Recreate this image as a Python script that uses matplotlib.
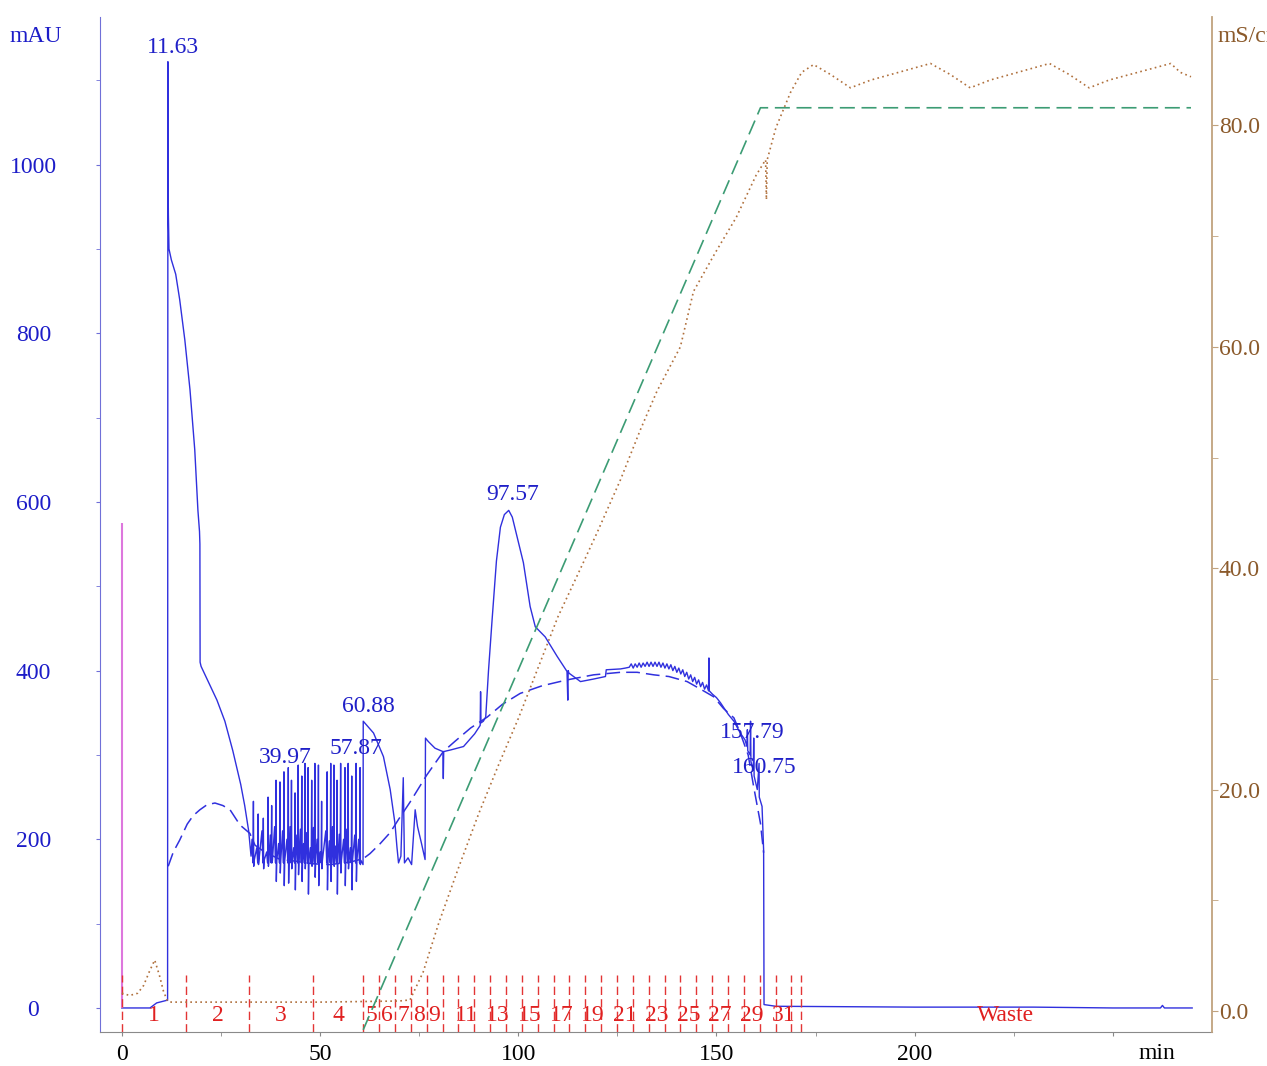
import numpy as np
import matplotlib.pyplot as plt
from matplotlib.transforms import blended_transform_factory

plt.rcParams['font.family'] = ['Liberation Serif', 'DejaVu Serif']

# ---- UV trace (min, mAU) ----
# injection / first peak / wash-out
uvA_t = [0, 7.1, 8.8, 11.3, 11.55, 11.63, 11.68, 11.75, 11.9, 12.5, 13.6, 14.6, 15.9,
         17.2, 18.4, 19.2, 19.6, 19.7, 19.75, 20, 22, 24, 26, 28, 30, 31, 32, 32.6]
uvA_y = [0, 0, 6, 9, 9, 1122, 975, 940, 900, 887, 870, 840, 792,
         733, 662, 590, 565, 550, 410, 405, 385, 365, 340, 305, 265, 240, 210, 180]

# noisy loading region (spikes)
spike_t = [33.2, 34.4, 35.7, 36.9, 37.8, 38.9, 39.9, 40.9, 42.0, 42.8, 43.7, 44.5, 45.4,
           46.2, 47.0, 47.9, 48.7, 49.6, 50.4, 51.8, 52.7, 53.5, 54.3, 55.2, 56.3, 57.1,
           58.0, 59.1, 60.1]
spike_top = [245, 230, 225, 250, 240, 270, 268, 280, 285, 270, 255, 288, 275,
             290, 285, 270, 290, 288, 245, 280, 290, 288, 270, 290, 285, 290,
             275, 290, 285]
spike_bot = [168, 170, 165, 168, 172, 150, 160, 145, 148, 165, 140, 158, 150,
             165, 135, 168, 155, 145, 165, 140, 150, 168, 135, 160, 145, 165,
             140, 150, 170]
spike_mid = [200, 190, 210, 185, 205, 215, 195, 210, 200, 215, 190, 205, 212,
             195, 208, 190, 214, 200, 185, 210, 198, 215, 192, 206, 200, 212,
             190, 205, 200]

# elution part
uvC_t = [60.85, 60.9, 63.5, 66, 67.7, 68.9, 69.4, 69.8, 70.4, 71.0, 71.3, 72.2, 73.1,
         74.0, 74.6, 75.6, 76.5, 76.6, 77.3, 79, 81.0, 81.1, 81.2, 83, 86.2, 89,
         90.4, 90.5, 90.6, 91.2, 91.8, 92.5, 93.4, 94.5, 95.5, 96.5, 97.6, 98.5,
         99.7, 101.3, 103, 104.3, 106.8, 109.8, 112.3, 112.5, 112.6, 112.8, 115.7,
         119, 122, 122.2, 125.8, 127, 128, 128.5, 129, 129.5, 130, 130.5, 131, 131.5,
         132, 132.5, 133, 133.5, 134, 134.5, 135, 135.5, 136, 136.5, 137, 137.5,
         138, 138.5, 139, 139.5, 140, 140.5, 141, 141.5, 142, 142.5, 143, 143.5,
         144, 144.5, 145, 145.5, 146, 146.5, 147, 147.5, 148, 148.1, 148.2, 149,
         150, 151, 152, 153, 154.4, 156, 157.2, 157.7, 157.8, 157.9, 158.5, 158.6,
         158.7, 159.3, 159.4, 159.5, 160.3, 160.75, 160.8, 161.5, 161.9, 162.0, 165,
         200, 230, 250, 262, 262.5, 263, 270]
uvC_y = [170, 340, 326, 298, 259, 219, 191, 172, 180, 273, 172, 178, 170,
         235, 215, 195, 176, 320, 316, 308, 304, 272, 304, 306, 310, 325,
         335, 375, 338, 340, 345, 400, 460, 530, 570, 585, 590, 582,
         559, 528, 476, 452, 440, 417, 399, 365, 400, 397, 387,
         390, 393, 401, 402, 403, 404, 408, 403, 408, 404, 409, 404, 409,
         405, 410, 405, 410, 405, 410, 405, 410, 404, 409, 403, 408,
         402, 407, 400, 405, 398, 403, 396, 401, 393, 398, 390, 395,
         387, 392, 384, 389, 381, 386, 378, 383, 376, 415, 376, 372,
         368, 362, 355, 348, 340, 326, 318, 310, 330, 305, 300, 340,
         292, 282, 320, 275, 259, 290, 250, 239, 187, 4, 2,
         1, 1, 0, 0, 3, 0, 0]

# dashed baseline
base_t = [11.7, 13, 14.6, 16.5, 18, 19.7, 21.5, 23.5, 25.5, 27.3, 29.8, 32.3, 33.6,
          36, 40, 44, 48, 52.5, 57.6, 60.9, 62.6, 65.2, 67.7, 70, 72.7, 76.9, 81.1,
          84, 88, 92.2, 96, 100.5, 106, 112.3, 119, 125.8, 130, 134.2, 138, 142.6,
          146, 149.3, 151.8, 154.4, 156, 158, 159.4, 161.1, 161.9]
base_y = [168, 185, 199, 218, 228, 235, 241, 243, 240, 235, 217, 207, 193,
          185, 176, 174, 171, 170, 173, 177, 183, 195, 208, 225, 244, 276, 304,
          316, 332, 345, 360, 373, 382, 389, 395, 398, 398, 395, 393, 387,
          378, 369, 355, 344, 326, 300, 262, 219, 184]

# conductivity (mS/cm)
cond_t = [0, 2, 4, 5.5, 7, 8.3, 9.5, 10.5, 11.5, 12.5, 30, 50, 70, 72.7, 76, 80, 85,
          90, 95, 100, 105, 110, 116.4, 120, 125.8, 130.8, 135, 140.9, 144.2, 149.7,
          155, 160, 162.4, 162.6, 162.8, 165, 168.7, 171.5, 174.5, 178.8, 183.8, 188.9,
          204, 209, 214, 219, 234, 239, 244, 249, 264.6, 267, 269.7]
cond_y = [1.6, 1.4, 1.6, 2.3, 3.6, 4.6, 3.2, 1.8, 0.9, 0.8, 0.8, 0.8, 0.9, 1.0, 3.5,
          8.0, 13.0, 17.8, 22.2, 26.4, 31.0, 35.6, 40.5, 43.3, 48.0, 52.5, 56.0,
          60.0, 65.0, 68.5, 71.7, 75.5, 76.9, 73.3, 76.9, 79.8, 83.0, 84.8, 85.5,
          84.6, 83.4, 84.1, 85.6, 84.6, 83.4, 84.1, 85.6, 84.6, 83.4, 84.1, 85.6,
          84.8, 84.4]

# gradient (%B, plotted on right scale)
grad_t = [60.9, 161.1, 269.7]
grad_y = [-1.7, 81.6, 81.6]

# injection mark
inject_t = [0.0]
inject_h = [575]

# fractions
frac_edges = [0, 16.2, 32.1, 48.2, 60.9, 64.9, 68.9, 72.9, 76.9, 80.9, 84.9, 88.9,
              92.9, 96.9, 100.9, 104.9, 108.9, 112.9, 116.9, 120.9, 124.9, 128.9,
              132.9, 136.9, 140.9, 144.9, 148.9, 152.9, 156.9, 160.9, 164.9, 168.9,
              171.3]
frac_labels = ['1', '2', '3', '4', '5', '6', '7', '8', '9', '', '11', '', '13', '',
               '15', '', '17', '', '19', '', '21', '', '23', '', '25', '', '27', '',
               '29', '', '31', '']
waste_t = 223

# peak labels
peak_labels = ['11.63', '39.97', '57.87', '60.88', '97.57', '157.79', '160.75']
peak_pos = [(12.9, 1139), (41.2, 297), (59.1, 308), (62.1, 358), (98.7, 609),
            (159.1, 327), (162.1, 285)]

# build uv trace
noise_t, noise_y = [], []
for t, top, bot, mid in zip(spike_t, spike_top, spike_bot, spike_mid):
    noise_t += [t - 0.35, t - 0.12, t, t + 0.08, t + 0.2]
    noise_y += [mid, 172, top, bot, 175]
uv_t = uvA_t + noise_t + uvC_t
uv_y = uvA_y + noise_y + uvC_y

BLUE = '#3030de'
BROWN = '#8b5a2b'
fig = plt.figure(figsize=(12.67, 10.66), dpi=100)
ax = fig.add_axes([100 / 1267, 1 - 1032 / 1066, 1112 / 1267, 1015 / 1066])
ax2 = ax.twinx()

ax.plot(uv_t, uv_y, color=BLUE, lw=1.0)
ax.plot(base_t, base_y, color=BLUE, lw=1.1, dashes=(9, 4))
ax.vlines(inject_t, 0, inject_h, color='#dd77dd', lw=1.5)
ax.vlines(frac_edges, -28.5, 39, color='#e33535', lw=1.0, linestyles=(0, (6, 3)))
for i, lab in enumerate(frac_labels):
    if lab:
        ax.text((frac_edges[i] + frac_edges[i + 1]) / 2, -9, lab, color='#e02020',
                fontsize=17, ha='center', va='center')
ax.text(waste_t, -9, 'Waste', color='#e02020', fontsize=17, ha='center', va='center')
for lab, (px, py) in zip(peak_labels, peak_pos):
    ax.text(px, py, lab, color='#2020c8', fontsize=17, ha='center', va='center')

ax2.plot(cond_t, cond_y, color='#b0703c', lw=1.2, linestyle=(0, (1, 2)))
ax2.plot(grad_t, grad_y, color='#3c9c74', lw=1.2, dashes=(9, 4))

ax.set_xlim(-5.5, 275)
ax.set_ylim(-28.5, 1175)
ax2.set_ylim(-1.9, 89.8)

ax.set_xticks([0, 50, 100, 150, 200, 250])
ax.set_xticklabels(['0', '50', '100', '150', '200', ''])
ax.set_xticks([25, 75, 125, 175, 225], minor=True)
ax.set_yticks([0, 200, 400, 600, 800, 1000])
ax.set_yticks([100, 300, 500, 700, 900, 1100], minor=True)
ax.tick_params(axis='x', which='both', direction='out', length=3, color='#888888',
               labelsize=17, pad=6)
ax.tick_params(axis='y', which='both', direction='out', length=3, color='#6f6fd8',
               labelsize=17, labelcolor='#1c1cc8', pad=45)
for lbl in ax.get_yticklabels():
    lbl.set_horizontalalignment('center')

ax2.set_yticks([0, 20, 40, 60, 80])
ax2.set_yticklabels(['0.0', '20.0', '40.0', '60.0', '80.0'])
ax2.set_yticks([10, 30, 50, 70], minor=True)
ax2.tick_params(axis='y', which='both', direction='out', length=4, color='#c0a27e',
                labelsize=17, labelcolor=BROWN, pad=1)

for a in (ax, ax2):
    a.spines['top'].set_visible(False)
ax.spines['right'].set_visible(False)
ax2.spines['left'].set_visible(False)
ax2.spines['bottom'].set_visible(False)
ax.spines['left'].set_color('#7070d8')
ax.spines['bottom'].set_color('#8a8a8a')
ax2.spines['right'].set_color('#c0a27e')
ax2.spines['right'].set_linewidth(1.3)

tr = blended_transform_factory(ax.transData, ax.transAxes)
ax.text(261, -0.011, 'min', transform=tr, fontsize=17, ha='center', va='top')
fig.text(36 / 1267, 1 - 37 / 1066, 'mAU', color='#1c1cc8', fontsize=17,
         ha='center', va='center')
# the reference crops this unit label at the right edge
fig.text(1218 / 1267, 1 - 37 / 1066, 'mS/cm', color=BROWN, fontsize=17,
         ha='left', va='center')

fig.savefig('out.png', dpi=100)
